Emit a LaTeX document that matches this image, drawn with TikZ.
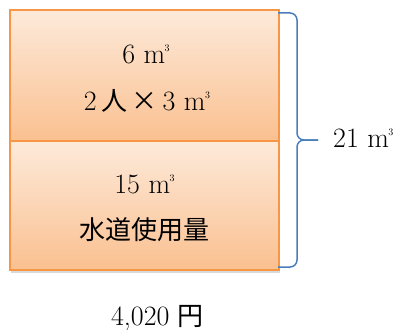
\documentclass[tikz,border=0pt]{standalone}
\usepackage{fontspec}
\newfontfamily\jp[Scale=0.93]{Noto Sans CJK JP}
\usetikzlibrary{shadows}
\definecolor{boxline}{HTML}{F79646}
\definecolor{boxtop}{HTML}{FDEADA}
\definecolor{boxbot}{HTML}{FAC090}
\definecolor{bracecol}{HTML}{4A7EBB}
\newcommand{\cbm}{m\kern-0.5pt\raisebox{0.42em}{\fontsize{10}{10}\selectfont 3}}

\begin{document}
\begin{tikzpicture}
[x=1pt,y=-1pt,
 part/.style={rectangle,draw=boxline,line width=1.5pt,top color=boxtop,bottom color=boxbot,minimum width=269pt,inner sep=0pt,drop shadow={opacity=0.3,shadow xshift=1pt,shadow yshift=-2.5pt}},
 txt/.style={anchor=base,inner sep=0pt,font=\fontsize{28}{32}\selectfont},
 brace/.style={draw=bracecol,line width=1.5pt,rounded corners=7pt}]
\useasboundingbox (0,0) rectangle (395,329);
% the two parts
\node[part,minimum height=131pt] at (144.5,75.5) (top) {};
\node[part,minimum height=129pt] at (144.5,205.5) (bottom) {};
\node[txt] at (146,63) (top1) {6 \cbm};
\node[txt] at (147,110) (top2) {2\,{\jp 人}\kern4pt{\jp ×}\kern5pt3 \cbm};
\node[txt] at (144.5,193) (bot1) {15 \cbm};
\node[txt] at (144.5,239) (bot2) {\jp 水道使用量};
\node[txt] at (157.5,325) (price) {4,020 {\jp 円}};
% brace and total
\coordinate (bt) at (278,13);
\coordinate (bb) at (278,267);
\coordinate (tip) at (318,140);
\draw[brace] (bt) -- (297,13) -- (297,140) -- (tip);
\draw[brace] (bb) -- (297,267) -- (297,140) -- (tip);
\node[txt,anchor=base west] at (333,147) (total) {21 \cbm};
\end{tikzpicture}
\end{document}
